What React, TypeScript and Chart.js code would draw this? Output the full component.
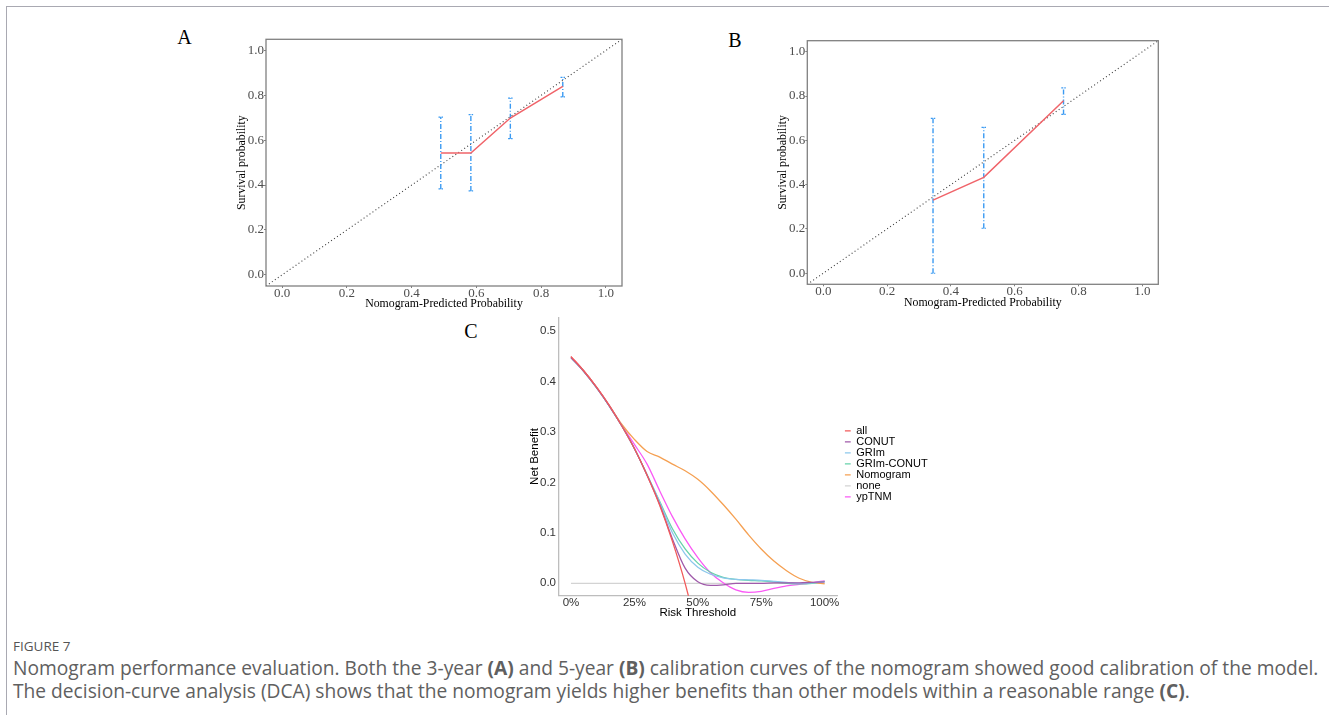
import React, { useEffect, useRef } from "react";
import { Chart, registerables } from "chart.js";

Chart.register(...registerables);

// ---------- Panel A / B : calibration ----------
const calibAxisMin = -0.05;
const calibAxisMax = 1.05;
const calibTicks = [0, 0.2, 0.4, 0.6, 0.8, 1.0];

const predictedA = [0.49, 0.583, 0.705, 0.867];
const observedA = [0.543, 0.543, 0.699, 0.84];
const lowerA = [0.383, 0.374, 0.607, 0.793];
const upperA = [0.703, 0.714, 0.788, 0.88];

const predictedB = [0.344, 0.503, 0.753];
const observedB = [0.33, 0.433, 0.779];
const lowerB = [0.0, 0.203, 0.717];
const upperB = [0.699, 0.659, 0.837];

// ---------- Panel C : decision curves ----------
const thresholds = [0, 0.05, 0.1, 0.15, 0.2, 0.25, 0.3, 0.35, 0.4, 0.45, 0.5, 0.55, 0.6, 0.65, 0.7, 0.75, 0.8, 0.85, 0.9, 0.95, 1.0];
const nbAll = [0.449, 0.421, 0.389, 0.353, 0.312, 0.267, 0.214, 0.154, 0.083, 0.0, -0.1];
const nbCONUT = [0.447, 0.42, 0.388, 0.352, 0.312, 0.267, 0.214, 0.156, 0.088, 0.03, 0.003, -0.004, -0.003, 0.0, 0.0, 0.0, 0.001, 0.001, 0.001, 0.002, 0.003];
const nbGRIm = [0.447, 0.42, 0.388, 0.352, 0.312, 0.267, 0.215, 0.16, 0.1, 0.058, 0.032, 0.018, 0.011, 0.008, 0.007, 0.006, 0.004, 0.002, 0.0, 0.001, 0.003];
const nbGRImCONUT = [0.447, 0.42, 0.388, 0.352, 0.312, 0.267, 0.215, 0.162, 0.108, 0.068, 0.04, 0.022, 0.012, 0.008, 0.006, 0.005, 0.003, 0.0, -0.001, 0.0, 0.004];
const nbNomogram = [0.449, 0.421, 0.389, 0.353, 0.315, 0.285, 0.261, 0.25, 0.236, 0.223, 0.206, 0.183, 0.156, 0.127, 0.096, 0.068, 0.044, 0.025, 0.01, 0.002, -0.001];
const nbNone = [0, 0, 0, 0, 0, 0, 0, 0, 0, 0, 0, 0, 0, 0, 0, 0, 0, 0, 0, 0, 0];
const nbYpTNM = [0.449, 0.421, 0.389, 0.353, 0.313, 0.275, 0.236, 0.183, 0.132, 0.088, 0.051, 0.021, 0.001, -0.013, -0.018, -0.016, -0.01, -0.005, -0.002, 0.001, 0.005];

const dcaNames = ["all", "CONUT", "GRIm", "GRIm-CONUT", "Nomogram", "none", "ypTNM"];
const dcaSeries = [nbAll, nbCONUT, nbGRIm, nbGRImCONUT, nbNomogram, nbNone, nbYpTNM];
const dcaColors = ["#F25A5A", "#A05AAA", "#8CC8EC", "#66D2AA", "#F5A052", "#D3D3D3", "#FA5AF5"];
const dcaXTicks = [0, 0.25, 0.5, 0.75, 1.0];
const dcaYTicks = [0, 0.1, 0.2, 0.3, 0.4, 0.5];
const dcaXMin = -0.05;
const dcaXMax = 1.05;
const dcaYMin = -0.0245;
const dcaYMax = 0.527;

const SERIF = "'Liberation Serif', 'Times New Roman', serif";
const SANS = "'Liberation Sans', Arial, sans-serif";

const frameRect = {
  id: "frameRect",
  afterDatasetsDraw(chart: any, _args: any, opts: any) {
    if (!opts || !opts.color) return;
    const { ctx, chartArea: a } = chart;
    ctx.save();
    ctx.strokeStyle = opts.color;
    ctx.lineWidth = opts.width;
    ctx.strokeRect(a.left, a.top, a.right - a.left, a.bottom - a.top);
    ctx.restore();
  },
};

type Box = { left: number; top: number; width: number; height: number };

function ChartCanvas({ box, makeConfig }: { box: Box; makeConfig: () => any }) {
  const ref = useRef<HTMLCanvasElement>(null);
  useEffect(() => {
    const chart = new Chart(ref.current as HTMLCanvasElement, makeConfig());
    return () => chart.destroy();
  }, []);
  return (
    <canvas
      ref={ref}
      width={box.width}
      height={box.height}
      style={{ position: "absolute", left: box.left, top: box.top, width: box.width, height: box.height }}
    />
  );
}

type CalibGeom = {
  box: Box;
  padRight: number;
  padTop: number;
  yAxisW: number;
  xAxisH: number;
  yTitlePad: number;
  xTitlePad: number;
};

function calibConfig(pred: number[], obs: number[], lo: number[], hi: number[], g: CalibGeom) {
  const capHalf = 0.007;
  const blue = "#3A9AF2";
  const dash = [5, 2, 1, 2];
  const datasets: any[] = [];
  datasets.push({
    label: "observed",
    data: pred.map((x, i) => ({ x, y: obs[i] })),
    borderColor: "#F0646A",
    borderWidth: 1.5,
    pointRadius: 0,
  });
  pred.forEach((x, i) => {
    datasets.push({
      label: "ci" + i,
      data: [
        { x, y: lo[i] },
        { x, y: hi[i] },
      ],
      borderColor: blue,
      borderWidth: 1.4,
      borderDash: dash,
      pointRadius: 0,
    });
    datasets.push({
      label: "cap" + i,
      data: [
        { x: x - capHalf, y: hi[i] },
        { x: x + capHalf, y: hi[i] },
        { x: x + capHalf, y: null },
        { x: x - capHalf, y: lo[i] },
        { x: x + capHalf, y: lo[i] },
      ],
      borderColor: blue,
      borderWidth: 1.2,
      borderDash: [2, 1],
      pointRadius: 0,
      spanGaps: false,
    });
  });
  datasets.push({
    label: "ideal",
    data: [
      { x: calibAxisMin, y: calibAxisMin },
      { x: calibAxisMax, y: calibAxisMax },
    ],
    borderColor: "#3a3a3a",
    borderWidth: 1.1,
    borderDash: [1, 2.6],
    pointRadius: 0,
  });

  const tickFont = { family: SERIF, size: 13 };
  const titleFont = { family: SERIF, size: 11.8 };
  return {
    type: "line",
    data: { datasets },
    plugins: [frameRect],
    options: {
      responsive: false,
      animation: false,
      events: [],
      layout: { padding: { left: 0, right: g.padRight, top: g.padTop, bottom: 0 } },
      plugins: {
        legend: { display: false },
        tooltip: { enabled: false },
        frameRect: { color: "#808080", width: 1.3 },
      },
      scales: {
        x: {
          type: "linear",
          min: calibAxisMin,
          max: calibAxisMax,
          afterBuildTicks: (s: any) => {
            s.ticks = calibTicks.map((v) => ({ value: v }));
          },
          afterFit: (s: any) => {
            s.height = g.xAxisH;
          },
          ticks: {
            callback: (v: any) => Number(v).toFixed(1),
            font: tickFont,
            color: "#4D4D4D",
            padding: -2.5,
            maxRotation: 0,
          },
          grid: { drawOnChartArea: false, drawTicks: true, tickLength: 2, color: "#808080" },
          border: { display: false },
          title: {
            display: true,
            text: "Nomogram-Predicted Probability",
            font: titleFont,
            color: "#000",
            padding: { top: 0, bottom: g.xTitlePad },
          },
        },
        y: {
          type: "linear",
          min: calibAxisMin,
          max: calibAxisMax,
          afterBuildTicks: (s: any) => {
            s.ticks = calibTicks.map((v) => ({ value: v }));
          },
          afterFit: (s: any) => {
            s.width = g.yAxisW;
          },
          ticks: {
            callback: (v: any) => Number(v).toFixed(1),
            font: tickFont,
            color: "#4D4D4D",
            padding: 0,
          },
          grid: { drawOnChartArea: false, drawTicks: true, tickLength: 2, color: "#808080" },
          border: { display: false },
          title: {
            display: true,
            text: "Survival probability",
            font: titleFont,
            color: "#000",
            padding: { top: g.yTitlePad, bottom: 0 },
          },
        },
      },
    },
  };
}

const geomA: CalibGeom = {
  box: { left: 222, top: 26, width: 408, height: 290 },
  padRight: 8,
  padTop: 13.3,
  yAxisW: 44,
  xAxisH: 30,
  yTitlePad: 12.6,
  xTitlePad: 4.6,
};

const geomB: CalibGeom = {
  box: { left: 763, top: 27, width: 404, height: 289 },
  padRight: 8.7,
  padTop: 13.7,
  yAxisW: 44.3,
  xAxisH: 31.7,
  yTitlePad: 13.2,
  xTitlePad: 6.4,
};

const boxC: Box = { left: 515, top: 308, width: 425, height: 314 };
const padRightC = 2.3;
const legendGapC = 7.4;

function dcaConfig() {
  const tickFont = { family: SANS, size: 11.5 };
  const titleFont = { family: SANS, size: 11.5 };
  const datasets = dcaNames.map((name, k) => ({
    label: name,
    data: dcaSeries[k].map((y, i) => ({ x: thresholds[i], y })),
    borderColor: dcaColors[k],
    backgroundColor: dcaColors[k],
    borderWidth: 1.3,
    pointRadius: 0,
    cubicInterpolationMode: "monotone",
    order: name === "none" ? 10 : 0,
  }));
  return {
    type: "line",
    data: { datasets },
    options: {
      responsive: false,
      animation: false,
      events: [],
      layout: { padding: { left: 0, right: padRightC, top: 7, bottom: 0 } },
      plugins: {
        tooltip: { enabled: false },
        legend: {
          position: "right",
          align: "center",
          fullSize: false,
          title: { display: true, text: "", font: { size: 12.5 }, padding: 0 },
          labels: {
            usePointStyle: true,
            pointStyle: "line",
            pointStyleWidth: 6,
            boxHeight: 11,
            padding: 0,
            color: "#000",
            font: { family: SANS, size: 11 },
            generateLabels: (chart: any) =>
              chart.data.datasets.map((ds: any, i: number) => ({
                text: ds.label,
                strokeStyle: ds.borderColor,
                fillStyle: ds.borderColor,
                lineWidth: 1.3,
                pointStyle: "line",
                hidden: false,
                datasetIndex: i,
                fontColor: "#000",
              })),
          },
        },
      },
      scales: {
        x: {
          type: "linear",
          min: dcaXMin,
          max: dcaXMax,
          afterBuildTicks: (s: any) => {
            s.ticks = dcaXTicks.map((v) => ({ value: v }));
          },
          afterFit: (s: any) => {
            s.height = 26.3;
          },
          ticks: {
            callback: (v: any) => Math.round(Number(v) * 100) + "%",
            font: tickFont,
            color: "#333",
            padding: 0.7,
            maxRotation: 0,
          },
          grid: { display: false, drawTicks: false },
          border: { display: true, color: "#BDBDBD", width: 1.3 },
          title: {
            display: true,
            text: "Risk Threshold",
            font: titleFont,
            color: "#000",
            padding: { top: 0, bottom: 1.8 },
          },
        },
        y: {
          type: "linear",
          min: dcaYMin,
          max: dcaYMax,
          afterBuildTicks: (s: any) => {
            s.ticks = dcaYTicks.map((v) => ({ value: v }));
          },
          afterFit: (s: any) => {
            s.width = 43.3;
          },
          ticks: {
            callback: (v: any) => Number(v).toFixed(1),
            font: tickFont,
            color: "#333",
            padding: 2.3,
          },
          grid: { display: false, drawTicks: false },
          border: { display: true, color: "#BDBDBD", width: 1.3 },
          title: {
            display: true,
            text: "Net Benefit",
            font: titleFont,
            color: "#000",
            padding: { top: 13.1, bottom: 0 },
          },
        },
        // invisible spacer between the plot and the legend
        gap: {
          type: "linear",
          position: "right",
          display: false,
          afterFit: (s: any) => {
            s.width = legendGapC;
          },
        },
      },
    },
  };
}

function PanelLetter({ text, cx, cy }: { text: string; cx: number; cy: number }) {
  return (
    <div
      style={{
        position: "absolute",
        left: cx - 15,
        top: cy - 10,
        width: 30,
        textAlign: "center",
        fontFamily: SERIF,
        fontSize: 20,
        lineHeight: "20px",
        color: "#000",
      }}
    >
      {text}
    </div>
  );
}

export default function App() {
  const captionStyle: React.CSSProperties = {
    position: "absolute",
    left: 13,
    whiteSpace: "nowrap",
    fontFamily: "'Open Sans', 'Noto Sans', sans-serif",
    fontSize: 19.2,
    lineHeight: "23px",
    color: "#606060",
  };
  return (
    <div
      style={{
        position: "absolute",
        left: 0,
        top: 0,
        width: 1329,
        height: 715,
        background: "#fff",
        overflow: "hidden",
      }}
    >
      <div style={{ position: "absolute", left: 6, top: 6, width: 1323, height: 1, background: "#A9A9B2" }} />
      <div style={{ position: "absolute", left: 6, top: 6, width: 1, height: 709, background: "#A9A9B2" }} />

      <PanelLetter text="A" cx={184.5} cy={37} />
      <PanelLetter text="B" cx={735} cy={39.5} />
      <PanelLetter text="C" cx={471} cy={331} />

      <ChartCanvas box={geomA.box} makeConfig={() => calibConfig(predictedA, observedA, lowerA, upperA, geomA)} />
      <ChartCanvas box={geomB.box} makeConfig={() => calibConfig(predictedB, observedB, lowerB, upperB, geomB)} />
      <ChartCanvas box={boxC} makeConfig={dcaConfig} />

      <div
        style={{
          position: "absolute",
          left: 13,
          top: 638,
          fontFamily: "'Open Sans', 'Noto Sans', sans-serif",
          fontSize: 13.5,
          lineHeight: "16px",
          color: "#555",
        }}
      >
        FIGURE 7
      </div>
      <div style={{ ...captionStyle, top: 655.5 }}>
        Nomogram performance evaluation. Both the 3-year <b>(A)</b> and 5-year <b>(B)</b> calibration curves of the
        nomogram showed good calibration of the model.
      </div>
      <div style={{ ...captionStyle, top: 678.5 }}>
        The decision-curve analysis (DCA) shows that the nomogram yields higher benefits than other models within a
        reasonable range <b>(C)</b>.
      </div>
    </div>
  );
}
